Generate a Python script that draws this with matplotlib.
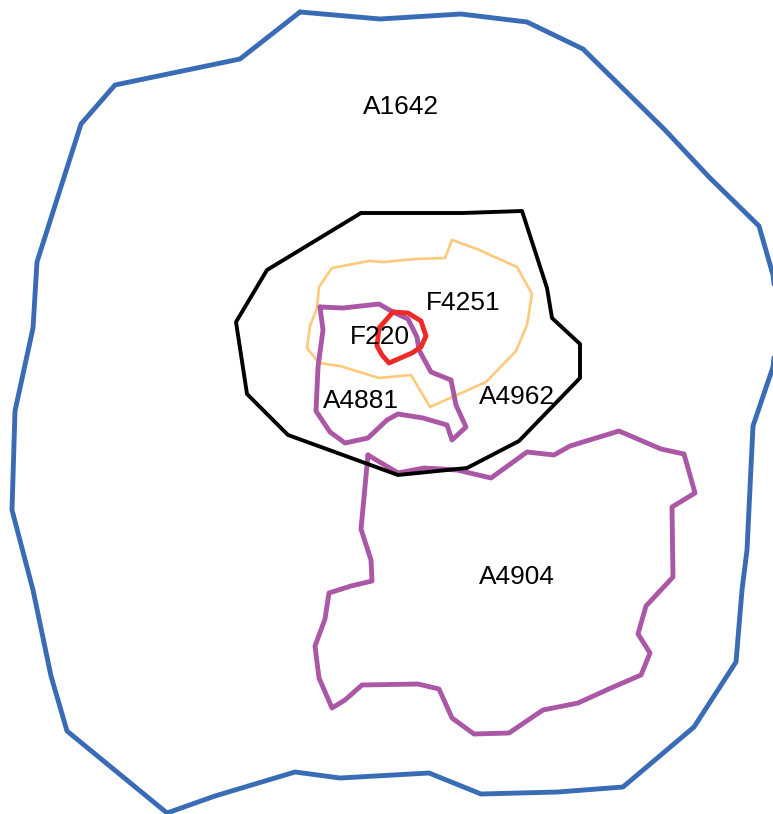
import matplotlib
matplotlib.use("Agg")
import matplotlib.pyplot as plt

W, H = 773, 814

a1642_x = [300,380,461,527,583,665,709,759,773,778,773,753,747,742,736,694,623,558,481,429,340,295,215,167,67,51,33,12,15,33,37,81,115,240,300]
a1642_y = [12,19,14,22,49,130,177,226,275,320,367,426,550,590,662,727,787,792,794,773,778,772,796,813,731,676,590,510,411,328,262,124,85,59,12]

outer_x = [361,463,522,547,552,580,580,519,467,398,288,247,236,267,361]
outer_y = [213,213,211,288,318,344,378,441,468,475,435,394,322,270,213]

f4251_x = [452,477,517,532,527,516,486,430,411,379,340,319,307,310,317,319,332,369,384,415,445,452]
f4251_y = [240,249,267,294,325,351,382,407,375,378,366,363,348,326,308,287,268,261,262,259,258,240]

a4881_x = [320,343,379,393,408,417,419,431,451,456,466,452,447,423,398,387,368,345,330,316,318,323,320]
a4881_y = [307,308,304,312,319,337,350,372,380,405,427,440,425,418,414,420,438,443,432,411,367,330,307]

a4904_x = [368,398,424,457,491,527,554,570,619,661,684,695,672,673,646,638,650,641,611,578,543,509,474,452,439,418,362,345,332,319,315,325,329,351,372,371,361,368]
a4904_y = [455,473,468,470,478,452,455,446,431,449,454,493,507,577,606,634,653,675,688,703,710,733,734,718,689,684,685,700,708,678,646,619,593,586,581,560,529,455]

f220_x = [393,408,421,426,421,412,389,382,377,379,393]
f220_y = [312,313,321,336,347,353,363,355,346,328,312]

labels = ["A1642", "F4251", "F220", "A4881", "A4962", "A4904"]
label_x = [401, 463, 380, 361, 517, 517]
label_y = [105, 301, 335, 399, 395, 574]

plt.rcParams['font.family'] = ['Liberation Sans', 'DejaVu Sans']
fig = plt.figure(figsize=(W / 100, H / 100), dpi=100)
ax = fig.add_axes([0, 0, 1, 1])
ax.set_xlim(0, W)
ax.set_ylim(H, 0)
ax.axis('off')

kw = dict(solid_joinstyle='round', solid_capstyle='round')
ax.plot(a1642_x, a1642_y, color='#3a6bb5', lw=3.5, **kw)
ax.plot(f4251_x, f4251_y, color='#fdc97b', lw=1.9, **kw)
ax.plot(a4881_x, a4881_y, color='#aa57a5', lw=3.5, **kw)
ax.plot(a4904_x, a4904_y, color='#aa57a5', lw=3.5, **kw)
ax.plot(outer_x, outer_y, color='#000000', lw=2.8, **kw)
ax.plot(f220_x, f220_y, color='#ee2a27', lw=3.5, **kw)

for s, x, y in zip(labels, label_x, label_y):
    ax.text(x, y, s, fontsize=18.9, ha='center', va='center_baseline', color='black')

fig.savefig('out.png', dpi=100, facecolor='white')
